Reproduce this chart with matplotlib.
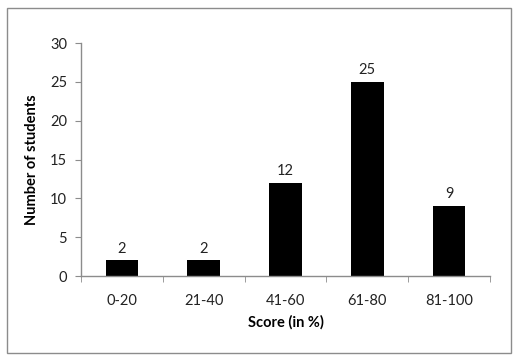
import numpy as np
import matplotlib.pyplot as plt
from matplotlib.patches import Rectangle

categories = ['0-20', '21-40', '41-60', '61-80', '81-100']
students = [2, 2, 12, 25, 9]
yticks = [0, 5, 10, 15, 20, 25, 30]

plt.rcParams['font.family'] = ['Lato', 'DejaVu Sans']

fig = plt.figure(figsize=(5.18, 3.62), dpi=100)
ax = fig.add_axes([81/518, 1-276/362, 409/518, 233/362])

x = np.arange(len(categories))
ax.bar(x, students, width=0.4, color='black')
for xi, v in zip(x, students):
    ax.text(xi, v + 0.6, str(v), ha='center', va='bottom', fontsize=10.5, color='#222222')

ax.set_xlim(-0.5, len(categories) - 0.5)
ax.set_ylim(0, 30)
ax.set_yticks(yticks)
ax.set_xticks(x)
ax.set_xticklabels(categories)
ax.set_xticks(np.arange(-0.5, len(categories)), minor=True)

for s in ['top', 'right']:
    ax.spines[s].set_visible(False)
for s in ['left', 'bottom']:
    ax.spines[s].set_color('#8c8c8c')
    ax.spines[s].set_linewidth(1)

ax.tick_params(axis='y', length=4, color='#8c8c8c', labelsize=10.5, pad=6, labelcolor='#222222')
ax.tick_params(axis='x', which='major', length=0, labelsize=10.5, pad=13, labelcolor='#222222')
ax.tick_params(axis='x', which='minor', length=4, color='#8c8c8c')

ax.set_xlabel('Score (in %)', fontsize=10.5, fontweight='bold', labelpad=5)
ax.set_ylabel('Number of students', fontsize=10.5, fontweight='bold', labelpad=8)

fig.patches.append(Rectangle((7/518, 1-353/362), 504/518, 345/362, transform=fig.transFigure,
                             fill=False, edgecolor='#8c8c8c', linewidth=1))

fig.savefig('out.png', dpi=100)
